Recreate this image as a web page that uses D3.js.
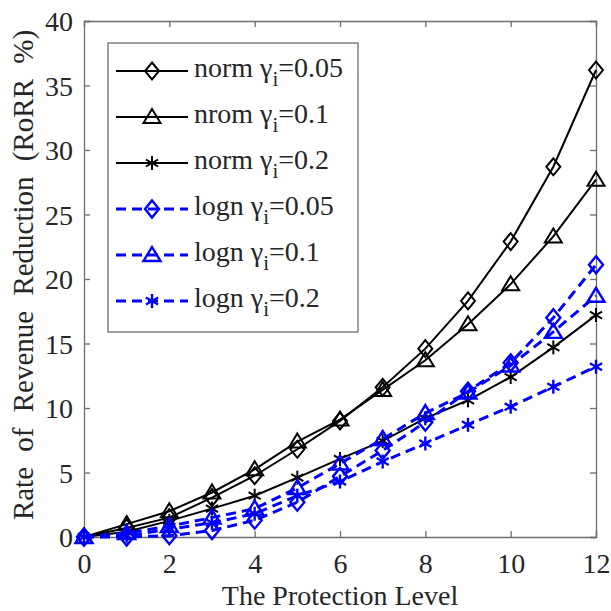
<!DOCTYPE html>
<html>
<head>
<meta charset="utf-8">
<script src="https://cdn.jsdelivr.net/npm/d3@7"></script>
<style>
  body { margin: 0; background: #fff; }
  text { font-family: "Liberation Serif", "Times New Roman", serif; fill: #262626; }
</style>
</head>
<body>
<svg id="chart" width="611" height="611"></svg>
<script>
// protection levels
const levels = [0, 1, 2, 3, 4, 5, 6, 7, 8, 9, 10, 11, 12]

// RoRR (%)
const normG005 = [0, 0.7, 1.5, 3.05, 4.75, 6.8, 9.0, 11.6, 14.6, 18.3, 22.9, 28.7, 36.2]
const normG010 = [0, 1.0, 2.0, 3.45, 5.25, 7.4, 9.1, 11.4, 13.7, 16.5, 19.6, 23.3, 27.7]
const normG020 = [0, 0.4, 1.25, 2.2, 3.2, 4.6, 6.05, 7.45, 9.2, 10.6, 12.4, 14.7, 17.2]
const lognG005 = [0, 0, 0.1, 0.5, 1.3, 2.7, 4.7, 6.7, 8.9, 11.3, 13.5, 17.0, 21.1]
const lognG010 = [0, 0.3, 0.85, 1.5, 2.2, 3.8, 5.7, 7.6, 9.6, 11.2, 13.3, 15.9, 18.7]
const lognG020 = [0, 0.1, 0.6, 1.1, 1.8, 3.2, 4.3, 5.85, 7.25, 8.7, 10.1, 11.65, 13.2]

const xTicks = [0, 2, 4, 6, 8, 10, 12]
const yTicks = [0, 5, 10, 15, 20, 25, 30, 35, 40]

const seriesNames = ['norm', 'nrom', 'norm', 'logn', 'logn', 'logn']
const seriesGamma = ['0.05', '0.1', '0.2', '0.05', '0.1', '0.2']

const series = [
  { name: seriesNames[0], gamma: seriesGamma[0], values: normG005, marker: 'diamond', color: '#000', dash: null },
  { name: seriesNames[1], gamma: seriesGamma[1], values: normG010, marker: 'triangle', color: '#000', dash: null },
  { name: seriesNames[2], gamma: seriesGamma[2], values: normG020, marker: 'star', color: '#000', dash: null },
  { name: seriesNames[3], gamma: seriesGamma[3], values: lognG005, marker: 'diamond', color: '#0000ff', dash: '10,6' },
  { name: seriesNames[4], gamma: seriesGamma[4], values: lognG010, marker: 'triangle', color: '#0000ff', dash: '10,6' },
  { name: seriesNames[5], gamma: seriesGamma[5], values: lognG020, marker: 'star', color: '#0000ff', dash: '10,6' }
]

const svg = d3.select('#chart')
const mLeft = 84, mRight = 596, mTop = 21, mBottom = 537

const x = d3.scaleLinear().domain([0, 12]).range([mLeft, mRight])
const y = d3.scaleLinear().domain([0, 40]).range([mBottom, mTop])

// axes box, MATLAB style (ticks inside, on all four sides)
const axisColor = '#6e6e6e'
const g = svg.append('g')

const xb = g.append('g').attr('transform', `translate(0,${mBottom})`)
  .call(d3.axisBottom(x).tickValues(xTicks).tickSize(-6).tickPadding(16))
const xt = g.append('g').attr('transform', `translate(0,${mTop})`)
  .call(d3.axisTop(x).tickValues(xTicks).tickSize(-6).tickFormat(''))
const yl = g.append('g').attr('transform', `translate(${mLeft},0)`)
  .call(d3.axisLeft(y).tickValues(yTicks).tickSize(-6).tickPadding(11))
const yr = g.append('g').attr('transform', `translate(${mRight},0)`)
  .call(d3.axisRight(y).tickValues(yTicks).tickSize(-6).tickFormat(''))

;[xb, xt, yl, yr].forEach(a => {
  a.select('.domain').attr('stroke', axisColor).attr('stroke-width', 1.3)
  a.selectAll('.tick line').attr('stroke', axisColor).attr('stroke-width', 1.3)
  a.selectAll('.tick text').attr('font-size', 28).attr('fill', '#262626')
    .style('font-family', '"Liberation Serif", serif')
})
xb.selectAll('.tick text').attr('dy', '0.71em')
yl.selectAll('.tick text').attr('dy', '0.35em')

// axis titles
svg.append('text')
  .attr('x', (mLeft + mRight) / 2)
  .attr('y', 605)
  .attr('text-anchor', 'middle')
  .attr('font-size', 28)
  .text('The Protection Level')

svg.append('text')
  .attr('transform', `translate(33,${(mTop + mBottom) / 2 - 4}) rotate(-90)`)
  .attr('text-anchor', 'middle')
  .attr('font-size', 29)
  .attr('word-spacing', 8)
  .text('Rate of Revenue Reduction (RoRR %)')

// markers
function drawMarker (sel, type, color, cx, cy, sw) {
  const m = sel.append('g').attr('transform', `translate(${cx},${cy})`)
    .attr('fill', 'none').attr('stroke', color).attr('stroke-width', sw)
  if (type === 'diamond') {
    m.append('path').attr('d', 'M0,-8.5L7,0L0,8.5L-7,0Z')
  } else if (type === 'triangle') {
    m.append('path').attr('d', 'M0,-8L8.5,6L-8.5,6Z')
  } else {
    const r = 7
    ;[90, 30, -30].forEach(a => {
      const rad = a * Math.PI / 180
      m.append('line')
        .attr('x1', -r * Math.cos(rad)).attr('y1', -r * Math.sin(rad))
        .attr('x2', r * Math.cos(rad)).attr('y2', r * Math.sin(rad))
    })
  }
}

const line = d3.line()
  .x((d, i) => x(levels[i]))
  .y(d => y(d))

const plot = svg.append('g')
series.forEach(s => {
  plot.append('path')
    .attr('d', line(s.values))
    .attr('fill', 'none')
    .attr('stroke', s.color)
    .attr('stroke-width', s.dash ? 3 : 2)
    .attr('stroke-dasharray', s.dash)
  s.values.forEach((v, i) => drawMarker(plot, s.marker, s.color, x(levels[i]), y(v), s.dash ? 2.4 : 2))
})

// legend
const lg = svg.append('g')
lg.append('rect')
  .attr('x', 108).attr('y', 43).attr('width', 250).attr('height', 289)
  .attr('fill', '#fff').attr('stroke', axisColor).attr('stroke-width', 1.3)

series.forEach((s, i) => {
  const ly = 71 + i * 46
  lg.append('line')
    .attr('x1', 116).attr('x2', 188).attr('y1', ly).attr('y2', ly)
    .attr('stroke', s.color)
    .attr('stroke-width', s.dash ? 3 : 2)
    .attr('stroke-dasharray', s.dash)
  drawMarker(lg, s.marker, s.color, 152, ly, s.dash ? 2.4 : 2)
  const t = lg.append('text')
    .attr('x', 194).attr('y', ly + 6)
    .attr('font-size', 28)
  t.append('tspan').text(s.name + ' γ')
  t.append('tspan').attr('font-size', 21).attr('dy', 9).text('i')
  t.append('tspan').attr('dy', -9).text('=' + s.gamma)
})
</script>
</body>
</html>
